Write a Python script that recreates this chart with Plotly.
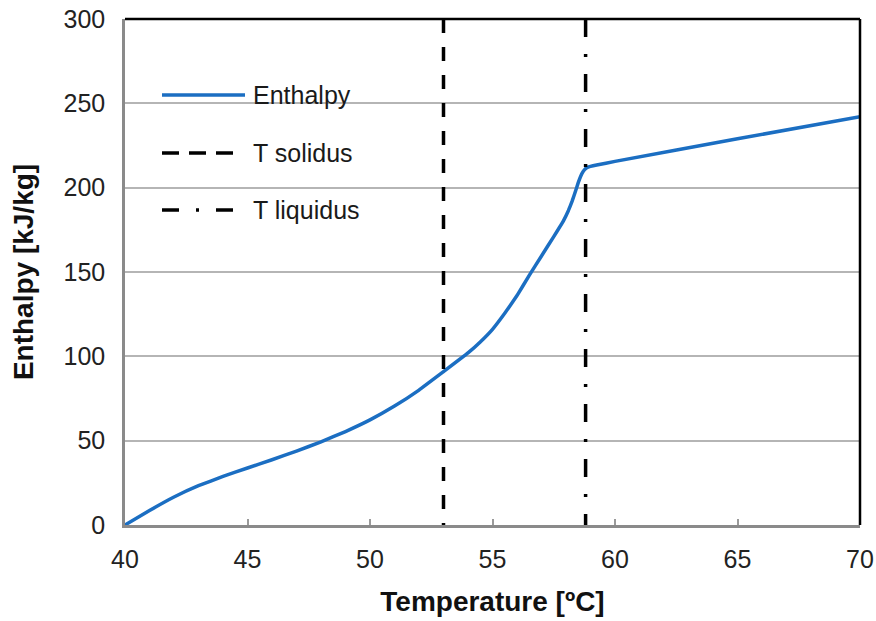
import plotly.graph_objects as go

# Enthalpy curve of the phase change material
temperature = [40, 41, 42, 43, 44, 45, 46, 47, 48, 49, 50, 51, 52, 53, 54, 54.5,
               55, 55.5, 56, 56.5, 57, 57.5, 57.9, 58.1, 58.25, 58.4, 58.5, 58.6,
               58.7, 58.8, 58.9, 59.25, 60, 65, 70]
enthalpy = [0, 8.6, 16.6, 23.3, 28.8, 33.8, 38.7, 43.8, 49.3, 55.4, 62.3, 70.5,
            80, 90.9, 102, 108.5, 116, 125.5, 136, 148, 159.5, 171, 180.5, 186.5,
            192, 198.5, 203, 206.8, 209.6, 211.3, 212.2, 213.4, 215.6, 229, 242]

t_solidus = 53.0
t_liquidus = 58.8

x_ticks = [40, 45, 50, 55, 60, 65, 70]
y_ticks = [0, 50, 100, 150, 200, 250, 300]

legend_names = ["Enthalpy", "T solidus", "T liquidus"]

BLUE = "#1b6ec2"
FONT = "Liberation Sans, Arial, sans-serif"
SOLIDUS_DASH = "14px,14px"
LIQUIDUS_DASH = "18px,17px,3px,17px"

fig = go.Figure()

fig.add_trace(go.Scatter(
    x=temperature, y=enthalpy, mode="lines", name=legend_names[0],
    line=dict(color=BLUE, width=3.5, shape="spline", smoothing=0.25),
    showlegend=False,
))

# pixel geometry of the plotting area
plot_left, plot_right, plot_top, plot_bottom = 125, 860, 19, 525
pw, ph = plot_right - plot_left, plot_bottom - plot_top


def px_x(v):
    return (v - plot_left) / pw


def px_y(v):
    return (plot_bottom - v) / ph


shapes = [
    # solidus / liquidus temperatures, placed on the data axes
    dict(type="line", xref="x", yref="y", x0=t_solidus, x1=t_solidus,
         y0=y_ticks[-1], y1=y_ticks[0],
         line=dict(color="black", width=3.5, dash=SOLIDUS_DASH), layer="above"),
    dict(type="line", xref="x", yref="y", x0=t_liquidus, x1=t_liquidus,
         y0=y_ticks[-1], y1=y_ticks[0],
         line=dict(color="black", width=3.5, dash=LIQUIDUS_DASH), layer="above"),
    # frame: top and right edges in black
    dict(type="line", xref="paper", yref="paper", x0=0, x1=1, y0=1, y1=1,
         line=dict(color="black", width=2.5), layer="above"),
    dict(type="line", xref="paper", yref="paper", x0=1, x1=1, y0=0, y1=1,
         line=dict(color="black", width=2.5), layer="above"),
    # white backing for the legend block
    dict(type="rect", xref="paper", yref="paper", x0=px_x(148), x1=px_x(372),
         y0=px_y(235), y1=px_y(62), fillcolor="white", line=dict(width=0),
         layer="between"),
]

# legend rows: sample line + label
legend_rows = [
    (legend_names[0], 245, dict(color=BLUE, width=3.5)),
    (legend_names[1], 233, dict(color="black", width=3.5, dash="17px,10px")),
    (legend_names[2], 233, dict(color="black", width=3.5, dash="17px,17px,3px,17px")),
]
row_y = [95, 153, 210]
annotations = []
for (label, x_end, style), py in zip(legend_rows, row_y):
    shapes.append(dict(type="line", xref="paper", yref="paper",
                       x0=px_x(162), x1=px_x(x_end), y0=px_y(py), y1=px_y(py),
                       line=style, layer="above"))
    annotations.append(dict(xref="paper", yref="paper", x=px_x(251), y=px_y(py),
                            text=label, showarrow=False, xanchor="left",
                            yanchor="middle",
                            font=dict(family=FONT, size=25, color="#1a1a1a")))

fig.update_layout(
    width=876, height=621,
    margin=dict(l=plot_left, r=876 - plot_right, t=plot_top, b=621 - plot_bottom),
    paper_bgcolor="white", plot_bgcolor="white",
    font=dict(family=FONT, size=25, color="#222222"),
    shapes=shapes, annotations=annotations,
    xaxis=dict(
        range=[x_ticks[0], x_ticks[-1]], tickvals=x_ticks, automargin=False,
        showgrid=False, zeroline=False,
        showline=True, linecolor="#8a8a8a", linewidth=2.5,
        ticks="inside", ticklen=6, tickwidth=1.5, tickcolor="#9a9a9a",
        tickfont=dict(size=25), ticklabelstandoff=10,
        title=dict(text="<b>Temperature [ºC]</b>", font=dict(size=28, color="#111111"),
                   standoff=20),
    ),
    yaxis=dict(
        range=[y_ticks[0], y_ticks[-1]], tickvals=y_ticks, automargin=False,
        showgrid=True, gridcolor="#b5b5b5", gridwidth=1.5, zeroline=False,
        showline=True, linecolor="#8a8a8a", linewidth=2.5,
        ticks="", tickfont=dict(size=25), ticklabelstandoff=12,
        title=dict(text="<b>Enthalpy [kJ/kg]</b>", font=dict(size=28, color="#111111"),
                   standoff=22),
    ),
)

fig.write_html("out.html")
